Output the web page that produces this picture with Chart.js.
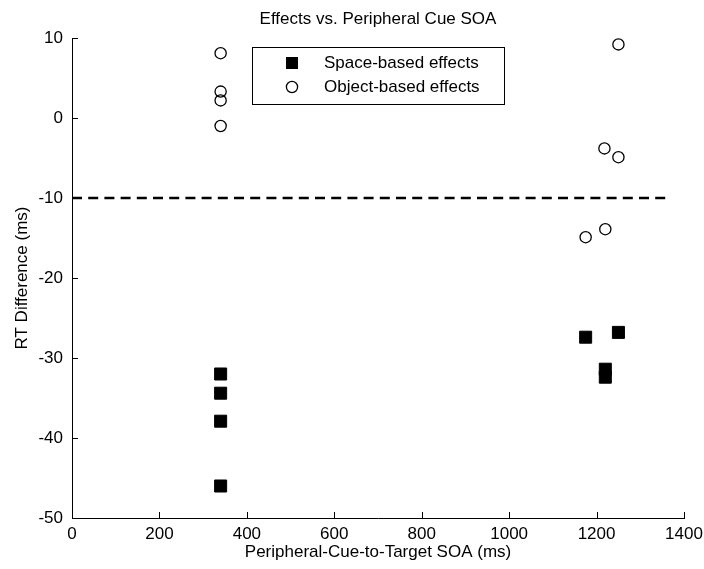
<!DOCTYPE html>
<html>
<head>
<meta charset="utf-8">
<title>Effects vs. Peripheral Cue SOA</title>
<script src="https://cdn.jsdelivr.net/npm/chart.js@4.4.1/dist/chart.umd.min.js"></script>
<style>
    html, body { margin: 0; padding: 0; background: #ffffff; }
    #wrap { width: 704px; height: 569px; }
</style>
</head>
<body>
<div id="wrap"><canvas id="soaChart"></canvas></div>
<script>
// values
const soaSpace = [340, 340, 340, 340, 1175, 1250, 1220, 1220];
const rtSpace = [-32, -34.4, -37.9, -46, -27.4, -26.8, -31.4, -32.4];
const soaObject = [340, 340, 340, 340, 1250, 1218, 1250, 1220, 1175];
const rtObject = [8.1, 3.3, 2.2, -1, 9.2, -3.8, -4.9, -13.9, -14.9];
const refLineX = [0, 1360];
const refLineY = [-10, -10];

const xTicks = [0, 200, 400, 600, 800, 1000, 1200, 1400];
const xTickLabels = ['0', '200', '400', '600', '800', '1000', '1200', '1400'];
const yTicks = [-50, -40, -30, -20, -10, 0, 10];
const yTickLabels = ['-50', '-40', '-30', '-20', '-10', '0', '10'];
const seriesNames = ['Space-based effects', 'Object-based effects'];
const chartTitle = 'Effects vs. Peripheral Cue SOA';

const FONT = '"Liberation Sans", Arial, Helvetica, sans-serif';

function toPoints(xs, ys) {
    return xs.map((x, i) => ({ x: x, y: ys[i] }));
}

// inward tick marks (matlab style) + title centred on the axes
const axesDecor = {
    id: 'axesDecor',
    afterDraw(chart) {
        const ctx = chart.ctx;
        const xs = chart.scales.x;
        const ys = chart.scales.y;
        const area = chart.chartArea;
        const len = 6;
        ctx.save();
        ctx.strokeStyle = '#000';
        ctx.lineWidth = 1;
        ctx.beginPath();
        xs.ticks.forEach(t => {
            const px = Math.round(xs.getPixelForValue(t.value)) + 0.5;
            ctx.moveTo(px, ys.bottom);
            ctx.lineTo(px, ys.bottom - len);
        });
        ys.ticks.forEach(t => {
            const py = Math.round(ys.getPixelForValue(t.value)) + 0.5;
            ctx.moveTo(xs.left, py);
            ctx.lineTo(xs.left + len, py);
        });
        ctx.stroke();

        ctx.fillStyle = '#000';
        ctx.font = '17px ' + FONT;
        ctx.textAlign = 'center';
        ctx.textBaseline = 'middle';
        ctx.fillText(chartTitle, (area.left + area.right) / 2, 19);
        ctx.restore();
    }
};

// boxed legend inside the axes
const boxLegend = {
    id: 'boxLegend',
    afterDraw(chart) {
        const ctx = chart.ctx;
        const area = chart.chartArea;
        const bx = area.left + 180;
        const by = area.top + 9;
        const bw = 252;
        const bh = 57;
        ctx.save();
        ctx.strokeStyle = '#000';
        ctx.lineWidth = 1;
        ctx.fillStyle = '#fff';
        ctx.fillRect(bx, by, bw, bh);
        ctx.strokeRect(bx + 0.5, by + 0.5, bw, bh);

        const mx = bx + 40;
        const row1 = by + 16;
        const row2 = by + 40;
        ctx.fillStyle = '#000';
        ctx.fillRect(mx - 6, row1 - 6, 12, 12);
        ctx.beginPath();
        ctx.arc(mx, row2, 5.6, 0, Math.PI * 2);
        ctx.lineWidth = 1.3;
        ctx.stroke();

        ctx.font = '17px ' + FONT;
        ctx.textBaseline = 'middle';
        ctx.textAlign = 'left';
        ctx.fillText(seriesNames[0], bx + 72, row1);
        ctx.fillText(seriesNames[1], bx + 72, row2);
        ctx.restore();
    }
};

function initializeChart() {
    const ctx = document.getElementById('soaChart').getContext('2d');
    new Chart(ctx, {
        type: 'scatter',
        data: {
            datasets: [{
                label: seriesNames[0],
                data: toPoints(soaSpace, rtSpace),
                pointStyle: 'rect',
                pointRadius: 8.5,
                backgroundColor: '#000',
                borderColor: '#000',
                borderWidth: 1
            }, {
                label: seriesNames[1],
                data: toPoints(soaObject, rtObject),
                pointStyle: 'circle',
                pointRadius: 5.6,
                backgroundColor: 'rgba(255, 255, 255, 0)',
                borderColor: '#000',
                borderWidth: 1.3
            }, {
                type: 'line',
                label: 'criterion',
                data: toPoints(refLineX, refLineY),
                borderColor: '#000',
                borderWidth: 2.5,
                borderDash: [10, 6.2],
                pointRadius: 0,
                fill: false
            }]
        },
        options: {
            responsive: true,
            maintainAspectRatio: false,
            animation: false,
            layout: {
                padding: { left: 0, right: 20, top: 38, bottom: 0 }
            },
            plugins: {
                legend: { display: false },
                tooltip: { enabled: false },
                title: { display: false }
            },
            scales: {
                x: {
                    type: 'linear',
                    min: 0,
                    max: 1400,
                    afterBuildTicks: scale => {
                        scale.ticks = xTicks.map(v => ({ value: v }));
                    },
                    afterFit: scale => {
                        scale.height = 51;
                        scale.paddingLeft = 0;
                        scale.paddingRight = 0;
                    },
                    grid: { display: false, drawTicks: false },
                    border: { display: true, color: '#000', width: 1 },
                    ticks: {
                        color: '#000',
                        padding: 6,
                        maxRotation: 0,
                        font: { family: FONT, size: 17 },
                        callback: value => xTickLabels[xTicks.indexOf(value)]
                    },
                    title: {
                        display: true,
                        text: 'Peripheral-Cue-to-Target SOA (ms)',
                        color: '#000',
                        font: { family: FONT, size: 17 },
                        padding: { top: 0, bottom: 6 }
                    }
                },
                y: {
                    type: 'linear',
                    min: -50,
                    max: 10,
                    afterBuildTicks: scale => {
                        scale.ticks = yTicks.map(v => ({ value: v }));
                    },
                    afterFit: scale => { scale.width = 72; },
                    grid: { display: false, drawTicks: false },
                    border: { display: true, color: '#000', width: 1 },
                    ticks: {
                        color: '#000',
                        padding: 9,
                        font: { family: FONT, size: 17 },
                        callback: value => yTickLabels[yTicks.indexOf(value)]
                    },
                    title: {
                        display: true,
                        text: 'RT Difference (ms)',
                        color: '#000',
                        font: { family: FONT, size: 17 },
                        padding: { top: 12, bottom: 0 }
                    }
                }
            }
        },
        plugins: [axesDecor, boxLegend]
    });
}

document.addEventListener('DOMContentLoaded', initializeChart);
</script>
</body>
</html>
